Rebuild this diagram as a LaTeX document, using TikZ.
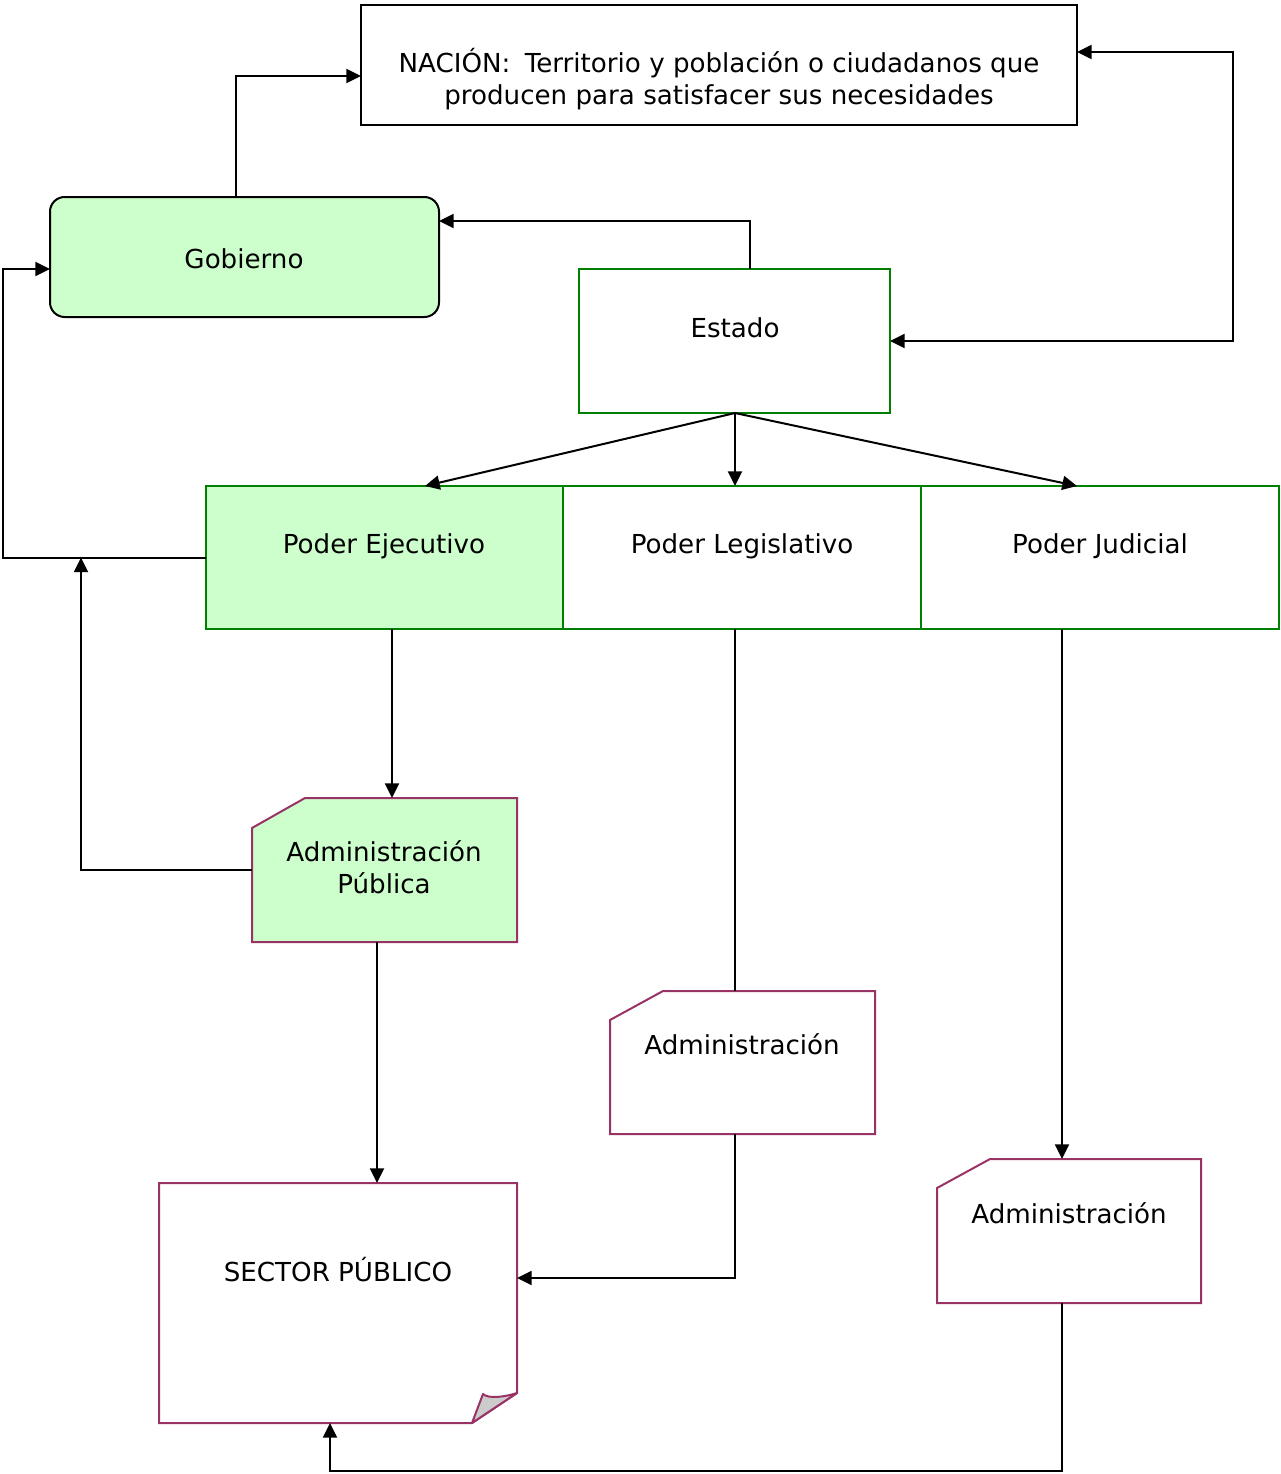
\documentclass[tikz,border=0pt]{standalone}
\usepackage{fontspec}
\setmainfont{DejaVu Sans}
\usetikzlibrary{arrows.meta,calc,fit}
\definecolor{boxgreen}{HTML}{008000}
\definecolor{boxpurple}{HTML}{993366}
\definecolor{softgreen}{HTML}{CCFFCC}
\definecolor{foldgray}{HTML}{CCCCCC}
\tikzset{
  area/.style={inner sep=0pt, outer sep=0pt},
  greenbox/.style={area, draw=boxgreen, line width=1.5pt},
  blackbox/.style={area, draw=black, line width=1.5pt},
  purpleline/.style={draw=boxpurple, line width=1.5pt, line join=miter},
  txt/.style={anchor=base, inner sep=0pt, align=center,
              font=\fontsize{19.6pt}{23.5pt}\selectfont},
  link/.style={draw=black, line width=1.5pt,
               -{Triangle[length=11pt,width=10.5pt]}},
  plainlink/.style={draw=black, line width=1.5pt},
  duallink/.style={draw=black, line width=1.5pt,
               {Triangle[length=11pt,width=10.5pt]}-{Triangle[length=11pt,width=10.5pt]}},
}
\begin{document}
\begin{tikzpicture}[x=0.75pt,y=-0.75pt]
\useasboundingbox (0,0) rectangle (1281,1474);

% --- boxes ---
\node[blackbox, fit={(361,5)(1077,125)}] (nacion) {};
\node[blackbox, fill=softgreen, rounded corners=11pt, fit={(50,197)(439,317)}] (gob) {};
\node[greenbox, fit={(579,269)(890,413)}] (estado) {};
\node[greenbox, fill=softgreen, fit={(206,486)(563,629)}] (pe) {};
\node[greenbox, fit={(563,486)(921,629)}] (pl) {};
\node[greenbox, fit={(921,486)(1279,629)}] (pj) {};
\node[area, fit={(252,798)(517,942)}] (adp) {};
\node[area, fit={(610,991)(875,1134)}] (adl) {};
\node[area, fit={(937,1159)(1201,1303)}] (adj) {};
\node[area, fit={(159,1183)(517,1423)}] (sp) {};

% cut-corner administration boxes
\draw[purpleline, fill=softgreen] ($(adp.north west)+(0,30)$) -- ($(adp.north west)+(53,0)$)
  -- (adp.north east) -- (adp.south east) -- (adp.south west) -- cycle;
\draw[purpleline, fill=white] ($(adl.north west)+(0,29)$) -- ($(adl.north west)+(53,0)$)
  -- (adl.north east) -- (adl.south east) -- (adl.south west) -- cycle;
\draw[purpleline, fill=white] ($(adj.north west)+(0,29)$) -- ($(adj.north west)+(53,0)$)
  -- (adj.north east) -- (adj.south east) -- (adj.south west) -- cycle;

% public sector sheet with folded corner
\draw[purpleline, fill=white] (sp.north west) -- (sp.north east) -- ($(sp.south east)+(0,-30)$)
  -- ($(sp.south east)+(-45,0)$) -- (sp.south west) -- cycle;
\draw[purpleline, line join=round, fill=foldgray] ($(sp.south east)+(-45,0)$) -- ($(sp.south east)+(-34,-29)$)
  .. controls ($(sp.south east)+(-29,-24)$) and ($(sp.south east)+(-12,-26)$) .. ($(sp.south east)+(0,-30)$) -- cycle;

% --- texts (multi-line nodes sit on the baseline of their last line) ---
\node[txt] (tnacion) at (719,104) {NACIÓN:\hspace{0.55em}Territorio y población o ciudadanos que\\producen para satisfacer sus necesidades};
\node[txt] (tgob) at (244,268) {Gobierno};
\node[txt] (testado) at (735,337) {Estado};
\node[txt] (tpe) at (384,553) {Poder Ejecutivo};
\node[txt] (tpl) at (742,553) {Poder Legislativo};
\node[txt] (tpj) at (1100,553) {Poder Judicial};
\node[txt] (tadp) at (384,893) {Administración\\Pública};
\node[txt] (tadl) at (742,1054) {Administración};
\node[txt] (tadj) at (1069,1223) {Administración};
\node[txt] (tsp) at (338,1281) {SECTOR PÚBLICO};

% --- connectors ---
\draw[link] ($(gob.north)+(-8.5,0)$) |- ($(nacion.west)+(0,11)$);
\draw[link] ($(estado.north)+(15.5,0)$) |- ($(gob.east)+(0,-36)$);
\draw[duallink] ($(nacion.east)+(0,-13)$) -- ++(156,0) |- (estado.east);
\draw[link] ($(estado.south)+(0.5,0)$) -- ($(pe.north)+(40.5,0)$);
\draw[link] ($(estado.south)+(0.5,0)$) -- ($(pl.north)+(-7,0)$);
\draw[link] ($(estado.south)+(0.5,0)$) -- ($(pj.north)+(-23,0)$);
\draw[link] (pe.west) -- ++(-203,0) |- ($(gob.west)+(0,12)$);
\draw[link] (adp.west) -| ($(pe.west)+(-125,0)$);
\draw[link] ($(pe.south)+(7.5,0)$) -- ($(adp.north)+(7.5,0)$);
\draw[plainlink] ($(pl.south)+(-7,0)$) -- ($(adl.north)+(-7.5,0)$);
\draw[link] ($(adl.south)+(-7.5,0)$) |- ($(sp.east)+(0,-25)$);
\draw[link] ($(pj.south)+(-38,0)$) -- ($(adj.north)+(-7,0)$);
\draw[link] ($(adj.south)+(-7,0)$) -- ++(0,168) -| ($(sp.south)+(-8,0)$);
\draw[link] ($(adp.south)+(-7.5,0)$) -- ($(sp.north)+(39,0)$);
\end{tikzpicture}
\end{document}
